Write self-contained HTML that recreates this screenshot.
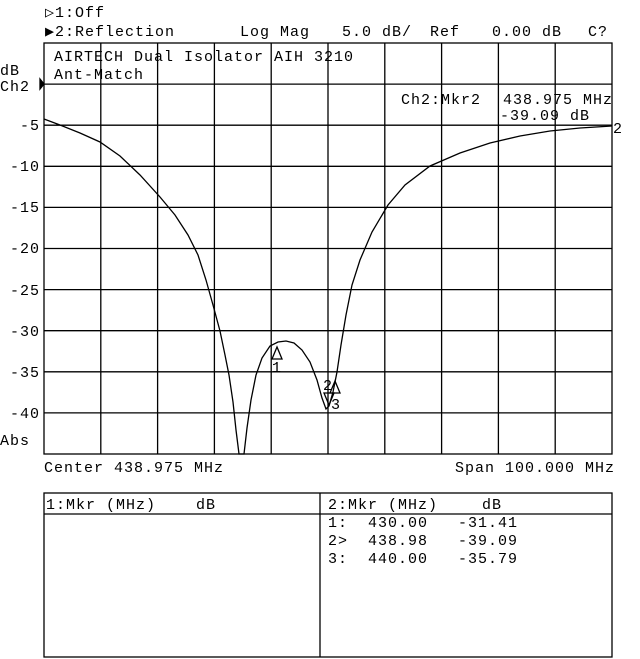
<!DOCTYPE html>
<html><head><style>
html,body{margin:0;padding:0;background:#fff;}
svg{display:block;}
text{font-family:"Liberation Mono","DejaVu Sans Mono",monospace;font-size:15px;fill:#000;letter-spacing:1px;white-space:pre;}
</style></head><body>
<svg width="640" height="659" viewBox="0 0 640 659" xmlns="http://www.w3.org/2000/svg">
<rect width="640" height="659" fill="#fff"/>
<g stroke="#000" stroke-width="1.3" fill="none">
<rect x="44" y="43" width="568" height="411"/>
<line x1="100.8" y1="43" x2="100.8" y2="454"/>
<line x1="157.6" y1="43" x2="157.6" y2="454"/>
<line x1="214.4" y1="43" x2="214.4" y2="454"/>
<line x1="271.2" y1="43" x2="271.2" y2="454"/>
<line x1="328" y1="43" x2="328" y2="454"/>
<line x1="384.8" y1="43" x2="384.8" y2="454"/>
<line x1="441.6" y1="43" x2="441.6" y2="454"/>
<line x1="498.4" y1="43" x2="498.4" y2="454"/>
<line x1="555.2" y1="43" x2="555.2" y2="454"/>
<line x1="44" y1="84.1" x2="612" y2="84.1"/>
<line x1="44" y1="125.2" x2="612" y2="125.2"/>
<line x1="44" y1="166.3" x2="612" y2="166.3"/>
<line x1="44" y1="207.4" x2="612" y2="207.4"/>
<line x1="44" y1="248.5" x2="612" y2="248.5"/>
<line x1="44" y1="289.6" x2="612" y2="289.6"/>
<line x1="44" y1="330.7" x2="612" y2="330.7"/>
<line x1="44" y1="371.8" x2="612" y2="371.8"/>
<line x1="44" y1="412.9" x2="612" y2="412.9"/>
<path d="M44,119 L60,125 L80,133 L100,142 L120,156 L140,175 L160,197 L175,215 L188,235 L198,255 L206,280 L213,305 L220,331 L225,355 L229,375 L233,402 L236,430 L239,454 L244,454 L247,428 L251,400 L256,375 L262,358 L270,346 L278,342 L286,341 L294,343 L302,350 L310,362 L317,380 L322,398 L326,409 L329,406 L333,392 L337,372 L341,345 L346,315 L352,285 L360,260 L372,232 L388,205 L405,185 L430,166 L460,153 L490,143 L520,136 L550,131 L580,128 L612,126"/>
<path d="M277,347 L272,359 L282,359 Z"/>
<path d="M329,405 L324,393 L334,393 Z"/>
<path d="M335,381 L330,393 L340,393 Z"/>
<path d="M40,79 L44,84 L40,89 Z" fill="#000"/>
<rect x="44" y="493" width="568" height="164"/>
<line x1="44" y1="514" x2="612" y2="514"/>
<line x1="320" y1="493" x2="320" y2="657"/>
</g>
<text x="45" y="17">▷1:Off</text>
<text x="45" y="36">▶2:Reflection</text>
<text x="240" y="36">Log Mag</text>
<text x="342" y="36">5.0 dB/</text>
<text x="430" y="36">Ref</text>
<text x="492" y="36">0.00 dB</text>
<text x="588" y="36">C?</text>
<text x="54" y="61">AIRTECH Dual Isolator AIH 3210</text>
<text x="54" y="79">Ant-Match</text>
<text x="0" y="75">dB</text>
<text x="0" y="91">Ch2</text>
<text x="401" y="104">Ch2:Mkr2</text>
<text x="503" y="104">438.975 MHz</text>
<text x="500" y="120">-39.09 dB</text>
<text x="613" y="133">2</text>
<text x="40" y="130" text-anchor="end">-5</text>
<text x="40" y="171" text-anchor="end">-10</text>
<text x="40" y="212" text-anchor="end">-15</text>
<text x="40" y="253" text-anchor="end">-20</text>
<text x="40" y="295" text-anchor="end">-25</text>
<text x="40" y="336" text-anchor="end">-30</text>
<text x="40" y="377" text-anchor="end">-35</text>
<text x="40" y="418" text-anchor="end">-40</text>
<text x="0" y="445">Abs</text>
<text x="272" y="372">1</text>
<text x="323" y="390">2</text>
<text x="331" y="409">3</text>
<text x="44" y="472">Center 438.975 MHz</text>
<text x="455" y="472">Span 100.000 MHz</text>
<text x="46" y="509">1:Mkr (MHz)</text>
<text x="196" y="509">dB</text>
<text x="328" y="509">2:Mkr (MHz)</text>
<text x="482" y="509">dB</text>
<text x="328" y="527">1:</text><text x="368" y="527">430.00</text><text x="458" y="527">-31.41</text>
<text x="328" y="545">2&gt;</text><text x="368" y="545">438.98</text><text x="458" y="545">-39.09</text>
<text x="328" y="563">3:</text><text x="368" y="563">440.00</text><text x="458" y="563">-35.79</text>
</svg>
</body></html>
